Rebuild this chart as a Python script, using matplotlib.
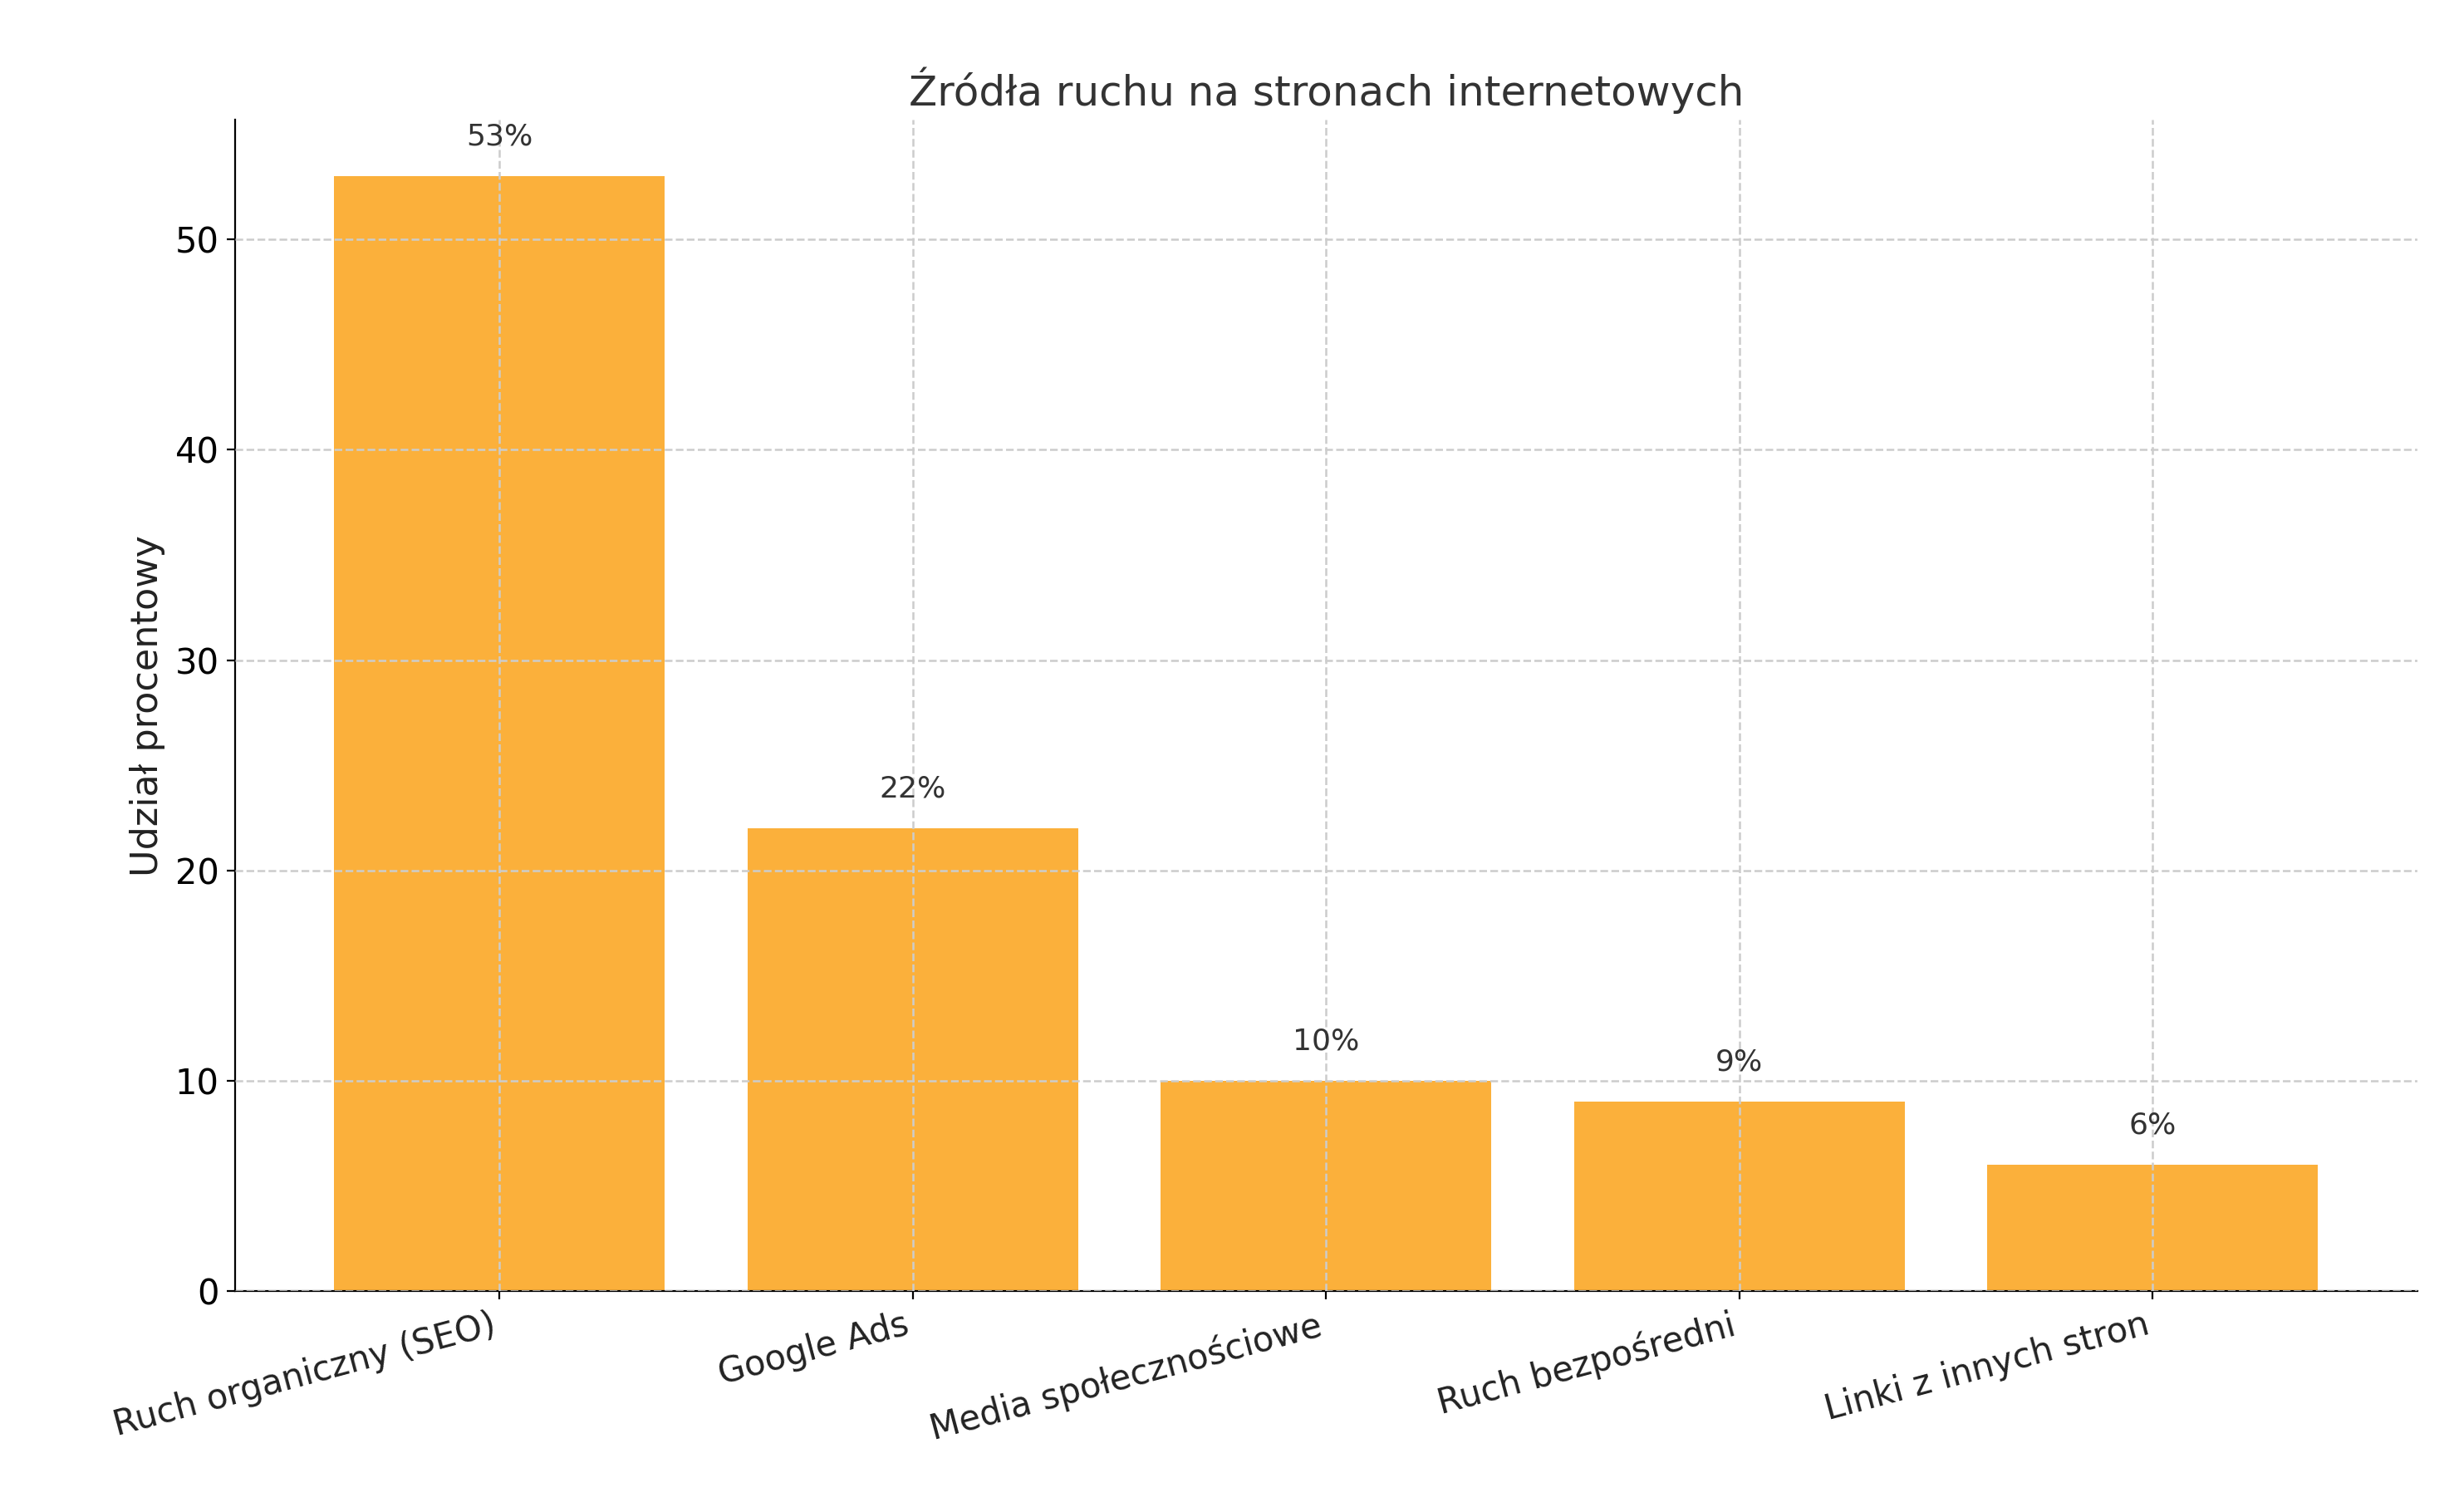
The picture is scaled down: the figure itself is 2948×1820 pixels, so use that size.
import matplotlib
matplotlib.use("Agg")
import matplotlib.pyplot as plt

categories = ["Ruch organiczny (SEO)", "Google Ads", "Media społecznościowe", "Ruch bezpośredni", "Linki z innych stron"]
values = [53, 22, 10, 9, 6]

fig = plt.figure(figsize=(14.74, 9.1), dpi=200)
ax = fig.add_axes([0.096, 0.146, 0.891, 0.775])
x = range(len(categories))
ax.bar(x, values, width=0.8, color="#FBB03B", zorder=2)
for i, v in zip(x, values):
    ax.text(i, v + 1.2, f"{v}%", ha="center", va="bottom", fontsize=13, color="#333333")
ax.set_ylim(0, 55.7)
ax.set_xlim(-0.64, 4.64)
ax.set_xticks(list(x))
ax.set_xticklabels(categories, rotation=15, ha="right", fontsize=15, color="#222222")
ax.tick_params(axis="y", labelsize=15)
ax.set_ylabel("Udział procentowy", fontsize=16, color="#222222")
ax.set_title("Źródła ruchu na stronach internetowych", fontsize=18, color="#333333")
ax.grid(True, linestyle="--", color="#cccccc", linewidth=0.9, zorder=3)
ax.set_axisbelow(False)
for s in ["top", "right"]:
    ax.spines[s].set_visible(False)
fig.savefig("out.png", dpi=200)
